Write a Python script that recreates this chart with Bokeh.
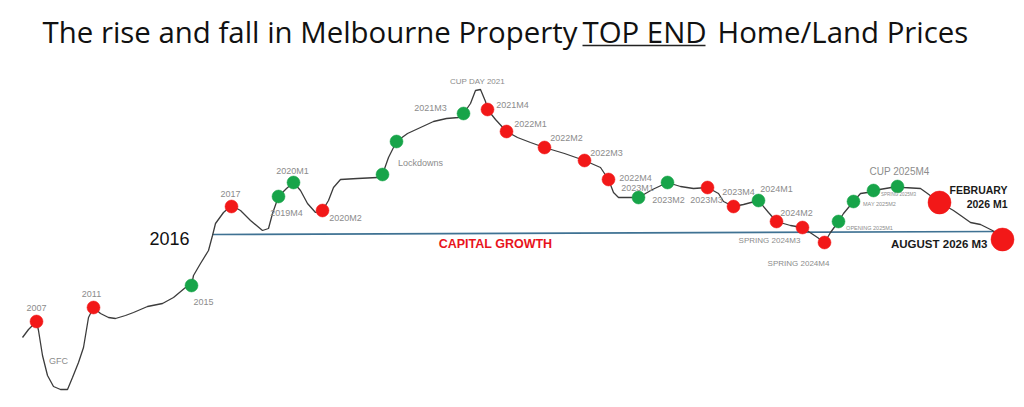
from bokeh.plotting import figure
from bokeh.models import ColumnDataSource, Range1d
from bokeh.core.properties import value
from bokeh.embed import file_html
from bokeh.resources import INLINE

# ---- data (in picture coordinates) ----
curve_x = [22, 28, 36, 38, 42, 47, 53, 60, 67, 72, 78, 83, 88, 93, 100, 108, 115, 125, 133, 147,
           162, 173, 185, 191, 193, 200, 208, 212, 215, 223, 231, 240, 250, 262, 268, 272, 278,
           286, 293, 300, 307, 315, 322, 328, 333, 340, 357, 377, 382, 388, 393, 396, 407, 420,
           433, 446, 458, 463, 470, 475, 480, 485, 487, 495, 506, 517, 530, 544, 564, 584, 600,
           604, 608, 613, 618, 627, 638, 652, 667, 680, 693, 707, 718, 723, 733, 743, 758, 768,
           776, 790, 802, 817, 824, 830, 838, 843, 848, 853, 860, 867, 873, 885, 897, 903, 920,
           927, 939, 953, 963, 970, 980, 992, 1002]
curve_y = [337, 329, 321, 330, 355, 375, 386, 389, 389, 377, 362, 347, 317, 307, 313, 317, 318, 315, 312, 306,
           303, 297, 287, 285, 275, 263, 250, 235, 223, 212, 205, 210, 220, 230, 228, 213, 196,
           188, 182, 190, 203, 212, 210, 200, 187, 179, 178, 177, 174, 157, 147, 141, 133, 127,
           121, 118, 117, 113, 103, 90, 89, 101, 109, 119, 131, 137, 142, 147, 153, 160, 167,
           173, 179, 192, 197, 197, 197, 189, 182, 186, 188, 187, 193, 201, 206, 204, 200, 212,
           221, 225, 227, 237, 242, 232, 221, 213, 207, 201, 193, 192, 190, 188, 186, 187, 188,
           193, 202, 210, 217, 222, 224, 230, 239]

point_x = [36, 93, 191, 231, 278, 293, 322, 382, 396, 463, 487, 506, 544, 584, 608, 638, 667,
           707, 733, 758, 776, 802, 824, 838, 853, 873, 897, 939, 1002]
point_y = [321, 307, 285, 206, 196, 182, 210, 174, 141, 113, 109, 131, 147, 160, 179, 197, 182,
           187, 206, 200, 221, 227, 242, 221, 201, 190, 186, 202, 239]
point_kind = ["fall", "fall", "rise", "fall", "rise", "rise", "fall", "rise", "rise", "rise",
              "fall", "fall", "fall", "fall", "fall", "rise", "rise", "fall", "fall", "rise",
              "fall", "fall", "fall", "rise", "rise", "rise", "rise", "forecast", "forecast"]

label_text = ["2007", "GFC", "2011", "2015", "2017", "2019M4", "2020M1", "2020M2", "Lockdowns",
              "2021M3", "CUP DAY 2021", "2021M4", "2022M1", "2022M2", "2022M3", "2022M4",
              "2023M1", "2023M2", "2023M3", "2023M4", "2024M1", "2024M2", "SPRING 2024M3",
              "SPRING 2024M4", "OPENING 2025M1", "MAY 2025M2", "SPRING 2025M3", "CUP 2025M4"]
label_x = [36, 58, 91, 203, 230, 286, 292, 345, 420, 430, 477, 512, 530, 566, 606, 635,
           637, 668, 706, 738, 776, 796, 769, 798, 869, 879, 898, 899]
label_y = [307, 360, 293, 301, 193, 212, 170, 217, 162, 107, 81, 104, 123, 137, 152, 177,
           187, 199, 199, 191, 188, 212, 240, 263, 227, 203, 194, 171]
label_size = ["9px"] * 10 + ["8px"] + ["9px"] * 11 + ["8px", "8px", "5.5px", "5.5px", "4.5px", "10px"]

bold_text = ["2016", "FEBRUARY", "2026 M1", "AUGUST 2026 M3"]
bold_x = [169, 1007, 1007, 987]
bold_y = [238, 189, 203, 243]
bold_size = ["18px", "10.5px", "10.5px", "11.5px"]

baseline_x = [212, 995]
baseline_y = [234, 231]
baseline_label = "CAPITAL GROWTH"

title_parts = ["The rise and fall in Melbourne Property", "TOP END", "Home/Land Prices"]

colors = {"fall": "#f21818", "rise": "#17a449", "forecast": "#f21818"}
sizes = {"fall": 13, "rise": 13, "forecast": 23}

# ---- figure ----
p = figure(width=1016, height=399, output_backend="svg", toolbar_location=None,
           x_range=Range1d(0, 1016), y_range=Range1d(399, 0),
           min_border=0, min_border_left=0, min_border_right=0,
           min_border_top=0, min_border_bottom=0)
p.axis.visible = False
p.grid.visible = False
p.outline_line_color = None
p.background_fill_color = "white"
p.border_fill_color = "white"

# title (three pieces so that "TOP END" can be underlined)
title_font = dict(text_font=value("Open Sans"), text_font_size=value("29.4px"),
                  text_color="#111111", text_baseline="middle")
p.text(x=[577], y=[31], text=title_parts[:1], text_align="right", **title_font)
p.text(x=[582, 717], y=[31, 31], text=title_parts[1:], text_align="left", **title_font)
p.line(x=[582, 705], y=[45, 45], line_color="#222222", line_width=1.4)

# capital growth reference line
p.line(x=baseline_x, y=baseline_y, line_color="#3f7293", line_width=1.6)
p.text(x=[495], y=[243], text=[baseline_label], text_font=value("Liberation Sans"),
       text_font_size=value("12.5px"), text_font_style="bold", text_color="#e8141c",
       text_align="center", text_baseline="middle")

# price curve
p.line(x=curve_x, y=curve_y, line_color="#3c3c3c", line_width=1.3)

# points
pts = ColumnDataSource(dict(
    x=point_x, y=point_y,
    c=[colors[k] for k in point_kind],
    s=[sizes[k] for k in point_kind],
))
p.scatter(x="x", y="y", size="s", fill_color="c", line_color="c", line_width=0.5, source=pts)

# grey labels
lab = ColumnDataSource(dict(x=label_x, y=label_y, t=label_text, fs=label_size))
p.text(x="x", y="y", text="t", text_font_size="fs", source=lab,
       text_font=value("Liberation Sans"), text_color="#8c8c8c",
       text_align="center", text_baseline="middle")

# black labels
p.text(x=bold_x[:1], y=bold_y[:1], text=bold_text[:1], text_font=value("Liberation Sans"),
       text_font_size=value(bold_size[0]), text_color="#111111",
       text_align="center", text_baseline="middle")
big = ColumnDataSource(dict(x=bold_x[1:], y=bold_y[1:], t=bold_text[1:], fs=bold_size[1:]))
p.text(x="x", y="y", text="t", text_font_size="fs", source=big,
       text_font=value("Liberation Sans"), text_font_style="bold", text_color="#1a1a1a",
       text_align="right", text_baseline="middle")

open("out.html", "w").write(file_html(p, INLINE))
